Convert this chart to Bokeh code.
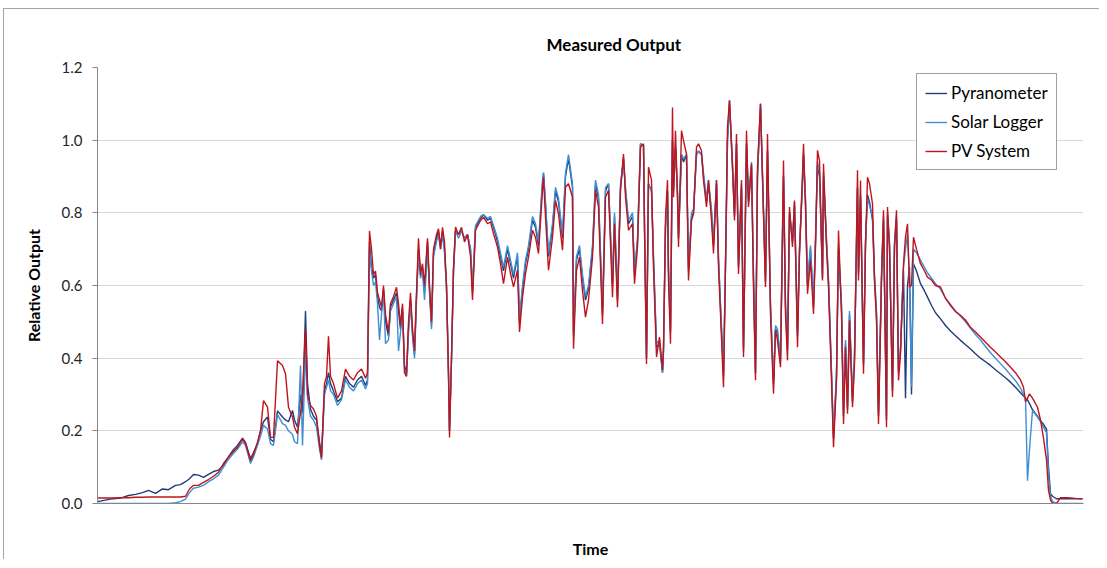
from bokeh.plotting import figure
from bokeh.models import Range1d, FixedTicker, NumeralTickFormatter, Legend, LegendItem
from bokeh.embed import file_html
from bokeh.resources import INLINE

# ---- data (time in minutes from first sample; relative output) ----
minute_dawn = [0, 13, 23, 31, 38, 45, 51, 58, 65, 71,
               78, 83, 88, 92, 96, 101, 106, 111, 116, 121,
               126, 131, 135, 140, 145, 148, 153, 156, 160, 163,
               166, 170, 173, 176, 180, 185, 188, 191, 195]
pv_dawn = [0.015, 0.015, 0.016, 0.016, 0.017, 0.017, 0.018, 0.018, 0.018, 0.018,
           0.018, 0.018, 0.020, 0.040, 0.050, 0.050, 0.058, 0.066, 0.075, 0.086,
           0.110, 0.128, 0.140, 0.155, 0.178, 0.165, 0.118, 0.136, 0.169, 0.200,
           0.283, 0.265, 0.182, 0.182, 0.393, 0.380, 0.357, 0.265, 0.238]
pyr_dawn = [0.005, 0.012, 0.015, 0.022, 0.025, 0.030, 0.036, 0.028, 0.040, 0.038,
            0.050, 0.052, 0.060, 0.068, 0.080, 0.078, 0.072, 0.080, 0.088, 0.092,
            0.105, 0.128, 0.145, 0.160, 0.180, 0.168, 0.123, 0.140, 0.165, 0.200,
            0.225, 0.238, 0.177, 0.170, 0.255, 0.238, 0.230, 0.225, 0.256]
log_dawn = [0.0, 0.0, 0.0, 0.0, 0.0, 0.0, 0.0, 0.0, 0.0, 0.0,
            0.002, 0.005, 0.012, 0.030, 0.042, 0.045, 0.050, 0.060, 0.068, 0.078,
            0.100, 0.122, 0.135, 0.150, 0.170, 0.160, 0.110, 0.128, 0.160, 0.185,
            0.215, 0.205, 0.165, 0.160, 0.245, 0.220, 0.215, 0.200, 0.190]

minute_morning = [197, 200, 203, 205, 208, 210, 213, 216, 219, 222,
                  224, 227, 229, 231, 233, 236, 240, 244, 248, 252,
                  256, 260, 264, 268, 270, 272, 274, 276, 278, 280,
                  282, 284, 286, 288, 291, 293, 296, 299, 301, 303,
                  305, 307, 309, 311, 313, 315, 317, 319, 321, 323,
                  325, 327, 330, 332, 334, 336, 339, 341, 343, 345,
                  347, 349, 351, 352, 354, 356, 358, 361, 364, 367,
                  370]
pv_morning = [0.210, 0.192, 0.250, 0.300, 0.480, 0.300, 0.270, 0.260, 0.240, 0.160,
              0.125, 0.330, 0.350, 0.460, 0.350, 0.330, 0.290, 0.310, 0.370, 0.350,
              0.340, 0.360, 0.370, 0.345, 0.360, 0.750, 0.700, 0.630, 0.640, 0.580,
              0.560, 0.540, 0.600, 0.520, 0.470, 0.550, 0.570, 0.595, 0.550, 0.490,
              0.550, 0.360, 0.350, 0.500, 0.580, 0.480, 0.420, 0.580, 0.730, 0.630,
              0.660, 0.600, 0.730, 0.600, 0.500, 0.700, 0.740, 0.756, 0.700, 0.760,
              0.720, 0.600, 0.350, 0.182, 0.400, 0.650, 0.761, 0.740, 0.760, 0.720,
              0.740]
pyr_morning = [0.230, 0.210, 0.300, 0.250, 0.530, 0.330, 0.260, 0.240, 0.230, 0.170,
               0.130, 0.310, 0.330, 0.360, 0.330, 0.310, 0.280, 0.290, 0.350, 0.330,
               0.320, 0.340, 0.350, 0.325, 0.340, 0.720, 0.650, 0.620, 0.630, 0.570,
               0.540, 0.530, 0.590, 0.500, 0.460, 0.540, 0.560, 0.580, 0.530, 0.480,
               0.540, 0.380, 0.360, 0.480, 0.560, 0.470, 0.410, 0.570, 0.700, 0.640,
               0.650, 0.580, 0.720, 0.590, 0.490, 0.690, 0.730, 0.750, 0.710, 0.750,
               0.700, 0.600, 0.360, 0.200, 0.400, 0.640, 0.750, 0.740, 0.750, 0.730,
               0.740]
log_morning = [0.170, 0.165, 0.380, 0.160, 0.420, 0.290, 0.240, 0.230, 0.210, 0.150,
               0.120, 0.300, 0.320, 0.340, 0.310, 0.300, 0.270, 0.285, 0.340, 0.320,
               0.310, 0.330, 0.340, 0.315, 0.330, 0.700, 0.640, 0.600, 0.610, 0.550,
               0.450, 0.520, 0.580, 0.440, 0.450, 0.530, 0.550, 0.570, 0.420, 0.470,
               0.530, 0.370, 0.350, 0.470, 0.550, 0.460, 0.400, 0.560, 0.690, 0.620,
               0.640, 0.560, 0.700, 0.580, 0.480, 0.680, 0.720, 0.740, 0.700, 0.740,
               0.690, 0.590, 0.360, 0.200, 0.400, 0.640, 0.750, 0.730, 0.750, 0.730,
               0.740]

minute_midday = [373, 375, 378, 383, 386, 390, 393, 396, 400, 403,
                 406, 410, 413, 416, 420, 422, 425, 428, 431, 435,
                 438, 441, 445, 446, 448, 451, 455, 458, 461, 465,
                 468, 471, 475, 476, 479, 482, 485, 488, 491, 495,
                 498, 501, 505, 508, 511, 515, 517, 520, 523, 526,
                 528, 531, 535, 537, 540]
pv_midday = [0.680, 0.560, 0.752, 0.779, 0.788, 0.770, 0.775, 0.742, 0.706, 0.660,
             0.605, 0.678, 0.633, 0.596, 0.642, 0.472, 0.568, 0.633, 0.678, 0.752,
             0.733, 0.688, 0.862, 0.898, 0.788, 0.642, 0.733, 0.834, 0.797, 0.697,
             0.871, 0.880, 0.843, 0.426, 0.642, 0.678, 0.586, 0.513, 0.560, 0.678,
             0.862, 0.816, 0.494, 0.843, 0.862, 0.568, 0.770, 0.540, 0.862, 0.962,
             0.843, 0.752, 0.770, 0.605, 0.706]
pyr_midday = [0.700, 0.580, 0.760, 0.785, 0.795, 0.780, 0.785, 0.760, 0.720, 0.680,
              0.640, 0.700, 0.660, 0.620, 0.680, 0.500, 0.590, 0.660, 0.700, 0.780,
              0.760, 0.710, 0.880, 0.910, 0.820, 0.680, 0.760, 0.860, 0.830, 0.730,
              0.900, 0.950, 0.870, 0.460, 0.670, 0.700, 0.620, 0.560, 0.590, 0.700,
              0.880, 0.840, 0.520, 0.860, 0.880, 0.600, 0.790, 0.560, 0.870, 0.950,
              0.860, 0.770, 0.790, 0.630, 0.720]
log_midday = [0.700, 0.600, 0.765, 0.790, 0.795, 0.785, 0.790, 0.765, 0.730, 0.690,
              0.650, 0.710, 0.670, 0.630, 0.690, 0.510, 0.600, 0.670, 0.710, 0.790,
              0.770, 0.720, 0.890, 0.910, 0.830, 0.690, 0.770, 0.870, 0.840, 0.740,
              0.910, 0.960, 0.880, 0.470, 0.680, 0.710, 0.630, 0.570, 0.600, 0.710,
              0.890, 0.850, 0.530, 0.870, 0.880, 0.610, 0.800, 0.570, 0.880, 0.950,
              0.870, 0.780, 0.800, 0.640, 0.730]

minute_noon = [543, 546, 547, 549, 551, 554, 556, 559, 562, 565,
               566, 568, 570, 571, 573, 575, 576, 578, 580, 581,
               584, 586, 589, 591, 594, 596, 599, 601, 604, 606,
               609, 611, 614, 616, 619, 621, 623, 626, 628, 630,
               632, 635, 637, 639, 641, 644, 646, 649, 651, 654,
               656, 658, 660, 663, 666, 668, 670, 673, 676, 678,
               680, 683]
pv_noon = [0.981, 0.990, 0.752, 0.384, 0.926, 0.890, 0.650, 0.403, 0.458, 0.367,
           0.430, 0.788, 0.890, 0.614, 0.440, 1.090, 0.843, 1.026, 0.843, 0.706,
           1.026, 0.999, 0.962, 0.614, 0.779, 0.797, 0.981, 0.990, 0.971, 0.890,
           0.816, 0.890, 0.779, 0.688, 0.890, 0.650, 0.522, 0.320, 0.660, 1.036,
           1.109, 0.935, 0.779, 1.017, 0.632, 0.890, 0.403, 1.026, 0.816, 0.935,
           0.596, 0.339, 0.926, 1.100, 0.797, 0.596, 1.017, 0.522, 0.302, 0.477,
           0.449, 0.375]
pyr_noon = [0.990, 0.985, 0.770, 0.400, 0.880, 0.860, 0.670, 0.430, 0.440, 0.360,
            0.420, 0.760, 0.860, 0.640, 0.470, 1.000, 0.860, 0.980, 0.850, 0.730,
            0.960, 0.940, 0.960, 0.640, 0.790, 0.800, 0.960, 0.970, 0.960, 0.900,
            0.830, 0.880, 0.800, 0.710, 0.880, 0.670, 0.540, 0.350, 0.650, 1.000,
            1.110, 0.920, 0.790, 0.990, 0.650, 0.870, 0.420, 0.990, 0.830, 0.930,
            0.620, 0.360, 0.900, 1.100, 0.800, 0.610, 0.970, 0.540, 0.330, 0.480,
            0.470, 0.390]
log_noon = [0.990, 0.985, 0.770, 0.400, 0.880, 0.860, 0.680, 0.440, 0.450, 0.360,
            0.420, 0.760, 0.860, 0.650, 0.480, 1.000, 0.870, 0.980, 0.860, 0.740,
            0.960, 0.950, 0.960, 0.650, 0.800, 0.810, 0.960, 0.970, 0.960, 0.910,
            0.840, 0.890, 0.810, 0.720, 0.890, 0.680, 0.550, 0.360, 0.660, 1.000,
            1.100, 0.930, 0.800, 0.990, 0.660, 0.880, 0.430, 0.990, 0.840, 0.940,
            0.630, 0.360, 0.910, 1.090, 0.810, 0.620, 0.970, 0.550, 0.340, 0.490,
            0.480, 0.400]

minute_afternoon = [686, 688, 690, 692, 695, 697, 700, 702, 705, 706,
                    708, 710, 713, 716, 718, 720, 722, 725, 726, 729,
                    731, 734, 736, 739, 741, 744, 746, 748, 750, 752,
                    755, 757, 760, 761, 763, 766, 768, 770, 772, 775,
                    777, 779, 781, 784, 786, 789, 790, 792, 795, 797,
                    799, 801]
pv_afternoon = [0.944, 0.522, 0.394, 0.816, 0.706, 0.834, 0.430, 0.687, 0.907, 0.990,
                0.816, 0.577, 0.669, 0.522, 0.706, 0.972, 0.944, 0.614, 0.935, 0.706,
                0.596, 0.339, 0.155, 0.339, 0.751, 0.522, 0.219, 0.430, 0.247, 0.504,
                0.265, 0.384, 0.917, 0.614, 0.889, 0.357, 0.706, 0.898, 0.880, 0.825,
                0.614, 0.504, 0.219, 0.614, 0.807, 0.210, 0.816, 0.706, 0.293, 0.706,
                0.807, 0.339]
pyr_afternoon = [0.900, 0.540, 0.420, 0.800, 0.720, 0.820, 0.460, 0.700, 0.880, 0.960,
                 0.830, 0.600, 0.700, 0.540, 0.720, 0.930, 0.900, 0.620, 0.900, 0.720,
                 0.610, 0.360, 0.180, 0.350, 0.700, 0.540, 0.240, 0.440, 0.260, 0.520,
                 0.280, 0.400, 0.870, 0.630, 0.840, 0.380, 0.720, 0.850, 0.830, 0.780,
                 0.620, 0.520, 0.240, 0.620, 0.780, 0.230, 0.790, 0.710, 0.310, 0.710,
                 0.780, 0.360]
log_afternoon = [0.900, 0.550, 0.430, 0.800, 0.730, 0.830, 0.470, 0.700, 0.890, 0.960,
                 0.840, 0.610, 0.710, 0.550, 0.730, 0.940, 0.910, 0.630, 0.910, 0.730,
                 0.620, 0.360, 0.190, 0.360, 0.710, 0.550, 0.250, 0.450, 0.270, 0.530,
                 0.290, 0.410, 0.870, 0.640, 0.850, 0.390, 0.720, 0.840, 0.820, 0.790,
                 0.630, 0.530, 0.250, 0.630, 0.790, 0.240, 0.800, 0.720, 0.320, 0.720,
                 0.790, 0.370]

minute_evening = [803, 806, 808, 810, 812, 814, 816, 819, 823, 827,
                  830, 834, 838, 843, 848, 853, 858, 863, 868, 873,
                  878, 883, 888, 893, 898, 903, 908, 913, 918, 923,
                  926, 928, 930, 932, 935, 940, 943, 946, 949, 951,
                  953, 955, 959, 963, 970, 978, 985]
pv_evening = [0.412, 0.660, 0.733, 0.770, 0.596, 0.600, 0.733, 0.700, 0.660, 0.640,
              0.623, 0.615, 0.600, 0.596, 0.565, 0.545, 0.528, 0.518, 0.505, 0.485,
              0.472, 0.458, 0.444, 0.430, 0.417, 0.403, 0.390, 0.375, 0.360, 0.340,
              0.320, 0.280, 0.290, 0.302, 0.290, 0.265, 0.230, 0.180, 0.120, 0.036,
              0.010, 0.000, 0.000, 0.016, 0.016, 0.014, 0.013]
pyr_evening = [0.420, 0.640, 0.290, 0.600, 0.650, 0.300, 0.660, 0.640, 0.605, 0.585,
               0.568, 0.545, 0.525, 0.508, 0.490, 0.475, 0.462, 0.449, 0.437, 0.425,
               0.412, 0.400, 0.390, 0.380, 0.368, 0.357, 0.346, 0.334, 0.320, 0.305,
               0.296, 0.290, 0.285, 0.275, 0.258, 0.240, 0.228, 0.218, 0.205, 0.100,
               0.027, 0.020, 0.013, 0.013, 0.013, 0.013, 0.013]
log_evening = [0.430, 0.650, 0.700, 0.740, 0.620, 0.320, 0.700, 0.690, 0.670, 0.650,
               0.635, 0.620, 0.605, 0.590, 0.565, 0.548, 0.530, 0.515, 0.500, 0.482,
               0.465, 0.450, 0.432, 0.415, 0.400, 0.385, 0.370, 0.354, 0.338, 0.318,
               0.300, 0.290, 0.063, 0.150, 0.256, 0.238, 0.225, 0.210, 0.195, 0.080,
               0.020, 0.005, 0.000, 0.000, 0.000, 0.000, 0.000]

minute = minute_dawn + minute_morning + minute_midday + minute_noon + minute_afternoon + minute_evening
pyranometer = pyr_dawn + pyr_morning + pyr_midday + pyr_noon + pyr_afternoon + pyr_evening
solar_logger = log_dawn + log_morning + log_midday + log_noon + log_afternoon + log_evening
pv_system = pv_dawn + pv_morning + pv_midday + pv_noon + pv_afternoon + pv_evening
assert len(minute) == len(pyranometer) == len(solar_logger) == len(pv_system)

y_ticks = [0.0, 0.2, 0.4, 0.6, 0.8, 1.0, 1.2]

FONT = "Lato"

p = figure(width=1096, height=551, output_backend="svg", toolbar_location=None,
           x_range=Range1d(0, 986), y_range=Range1d(0, 1.2),
           min_border_left=93, min_border_right=17, min_border_top=58, min_border_bottom=57,
           title="Measured Output")
p.styles = {"margin-left": "3px", "margin-top": "8px",
            "border-top": "1px solid #A6A6A6", "border-left": "1px solid #A6A6A6"}

p.title.align = "left"
p.title.offset = 449
p.title.text_font = FONT
p.title.text_font_size = "17px"
p.title.text_font_style = "bold"
p.title.text_color = "#000000"
p.title.standoff = 26

p.outline_line_color = None
p.background_fill_color = "white"
p.border_fill_color = "white"

# grid
p.xgrid.grid_line_color = None
p.ygrid.grid_line_color = "#D9D9D9"
p.ygrid.grid_line_width = 1

# y axis
p.yaxis.ticker = FixedTicker(ticks=y_ticks)
p.yaxis.formatter = NumeralTickFormatter(format="0.0")
p.yaxis.axis_label = "Relative Output"
p.yaxis.axis_label_text_font = FONT
p.yaxis.axis_label_text_font_size = "16px"
p.yaxis.axis_label_text_font_style = "bold"
p.yaxis.axis_label_text_color = "#000000"
p.yaxis.axis_label_standoff = 16
p.yaxis.major_label_text_font = FONT
p.yaxis.major_label_text_font_size = "15px"
p.yaxis.major_label_text_color = "#262626"
p.yaxis.major_label_standoff = 10
p.yaxis.axis_line_color = "#868686"
p.yaxis.major_tick_line_color = "#868686"
p.yaxis.major_tick_out = 5
p.yaxis.major_tick_in = 0
p.yaxis.minor_tick_line_color = None

# x axis
p.xaxis.ticker = FixedTicker(ticks=[])
p.xaxis.axis_label = "Time"
p.xaxis.axis_label_text_font = FONT
p.xaxis.axis_label_text_font_size = "16px"
p.xaxis.axis_label_text_font_style = "bold"
p.xaxis.axis_label_text_color = "#000000"
p.xaxis.axis_label_standoff = 35
p.xaxis.axis_line_color = "#868686"
p.xaxis.major_tick_line_color = None
p.xaxis.minor_tick_line_color = None
p.xaxis.major_label_text_font_size = "0px"

r_pyr = p.line(minute, pyranometer, line_color="#1F3D7A", line_width=1.4)
r_log = p.line(minute, solar_logger, line_color="#3E8FD2", line_width=1.4)
r_pv = p.line(minute, pv_system, line_color="#C0141C", line_width=1.4)

legend = Legend(items=[LegendItem(label="Pyranometer", renderers=[r_pyr]),
                       LegendItem(label="Solar Logger", renderers=[r_log]),
                       LegendItem(label="PV System", renderers=[r_pv])],
                location=(819, 333))
legend.label_text_font = FONT
legend.label_text_font_size = "17px"
legend.label_text_color = "#000000"
legend.border_line_color = "#404040"
legend.border_line_width = 1
legend.background_fill_color = "white"
legend.background_fill_alpha = 1.0
legend.padding = 8
legend.margin = 0
legend.spacing = 8
legend.glyph_width = 22
legend.glyph_height = 20
legend.label_height = 20
legend.label_standoff = 4
p.add_layout(legend, "center")

open("out.html", "w").write(file_html(p, INLINE))
